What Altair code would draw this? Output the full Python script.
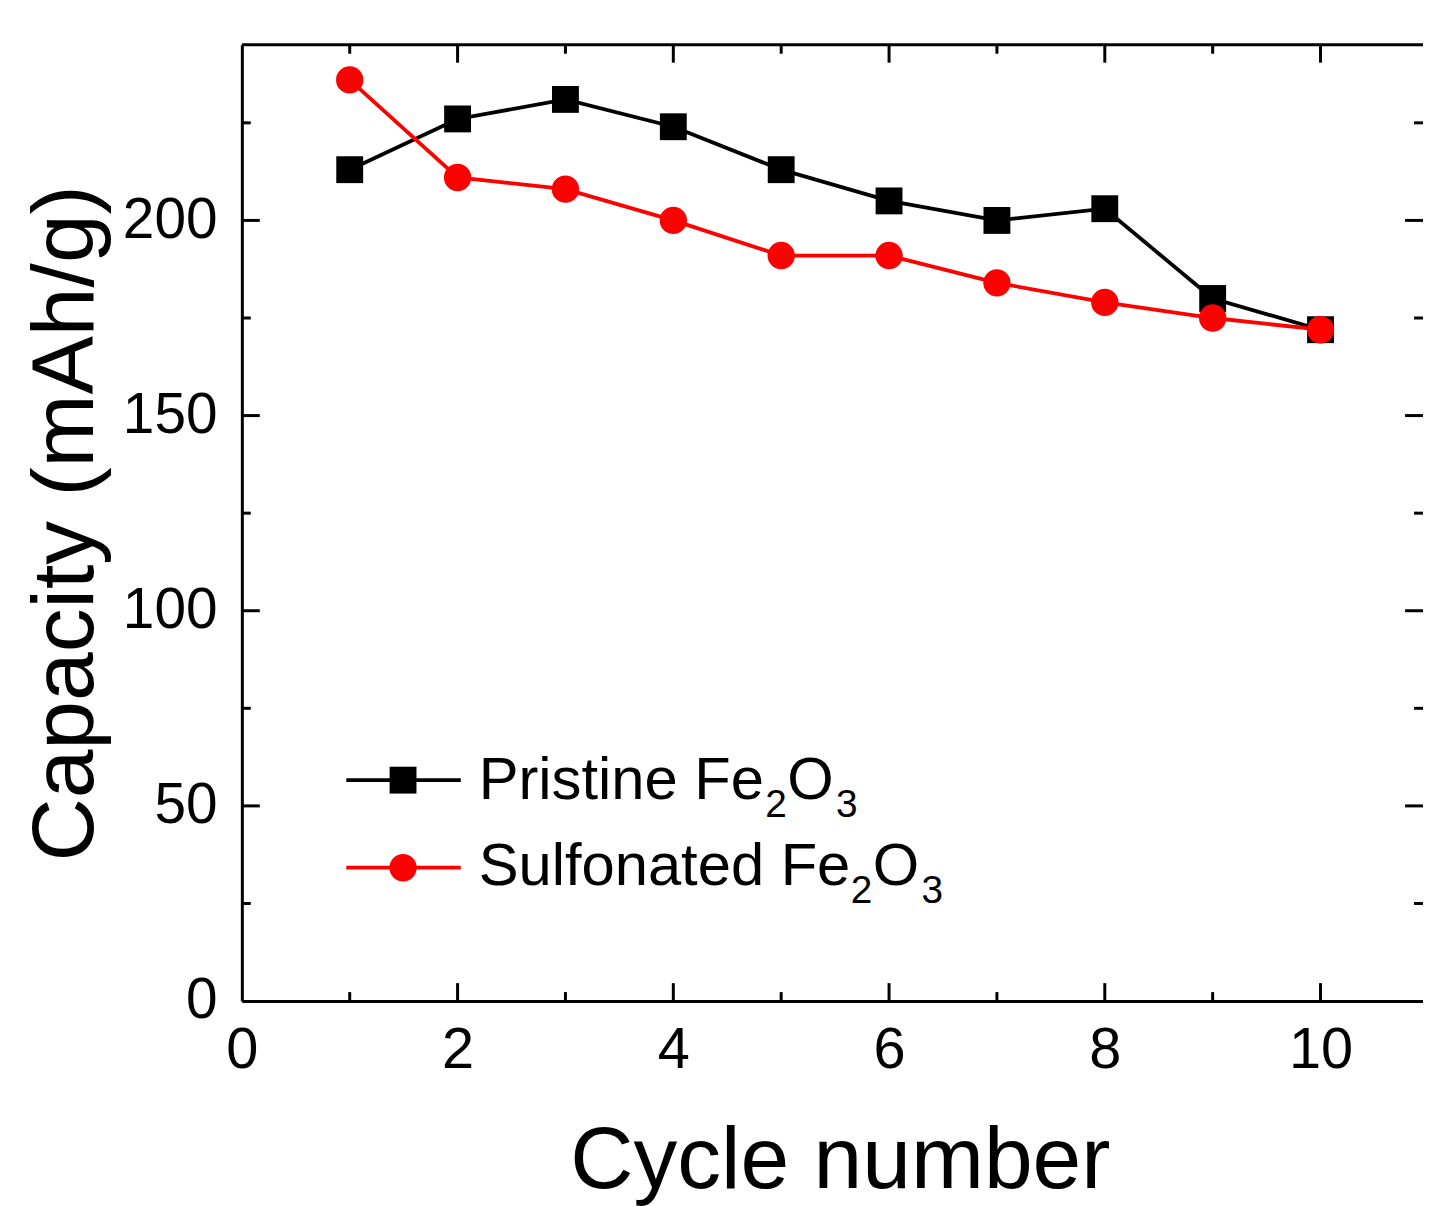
import altair as alt
import pandas as pd

# ---- data ----
cycles = [1, 2, 3, 4, 5, 6, 7, 8, 9, 10]
pristine = [213, 226, 231, 224, 213, 205, 200, 203, 180, 172]
sulfonated = [236, 211, 208, 200, 191, 191, 184, 179, 175, 172]

x_major = [0, 2, 4, 6, 8, 10]
x_minor = [1, 3, 5, 7, 9]
y_major = [0, 50, 100, 150, 200]
y_minor = [25, 75, 125, 175, 225]

FONT = "Liberation Sans"
W, H = 1187, 961
XMAX, YMAX = 10.95, 245
MAJ, MIN = 18, 9
RED = "#ff0000"
LW = 3.8

xs = alt.Scale(domain=[0, XMAX], nice=False, zero=False)
ys = alt.Scale(domain=[0, YMAX], nice=False, zero=False)

df_p = pd.DataFrame({"cycle": cycles, "cap": pristine})
df_s = pd.DataFrame({"cycle": cycles, "cap": sulfonated})

x_axis = alt.Axis(
    values=x_major, ticks=False, grid=False, domainWidth=3, domainColor="black",
    labelFont=FONT, labelFontSize=58, labelColor="black", labelPadding=21,
    labelFlush=False, format="d",
    title="Cycle number", titleFont=FONT, titleFontSize=88, titleFontWeight="normal",
    titleColor="black", titleBaseline="alphabetic", titleY=187, titleX=601,
)
y_axis = alt.Axis(
    values=y_major, ticks=False, grid=False, domainWidth=3, domainColor="black",
    labelFont=FONT, labelFontSize=57, labelColor="black", labelPadding=25,
    labelFlush=False, format="d",
    title="Capacity (mAh/g)", titleFont=FONT, titleFontSize=88, titleFontWeight="normal",
    titleColor="black", titleBaseline="alphabetic", titleAngle=270,
    titleX=-150, titleY=H / 2, titleAlign="center",
)

def X(field):
    return alt.X(field, scale=xs, axis=x_axis, title="Cycle number")

def Y(field):
    return alt.Y(field, scale=ys, axis=y_axis, title="Capacity (mAh/g)")

line_p = alt.Chart(df_p).mark_line(color="black", strokeWidth=LW).encode(
    x=X("cycle:Q"), y=Y("cap:Q"))
pts_p = alt.Chart(df_p).mark_square(color="black", size=729, opacity=1).encode(
    x=X("cycle:Q"), y=Y("cap:Q"))
line_s = alt.Chart(df_s).mark_line(color=RED, strokeWidth=LW).encode(
    x=X("cycle:Q"), y=Y("cap:Q"))
pts_s = alt.Chart(df_s).mark_circle(color=RED, size=755, opacity=1).encode(
    x=X("cycle:Q"), y=Y("cap:Q"))

# ---- inward ticks on all four sides ----
def xticks(vals, length, top):
    d = pd.DataFrame({"cycle": vals})
    y0, y1 = (0, length) if top else (H, H - length)
    return alt.Chart(d).mark_rule(color="black", strokeWidth=3).encode(
        x=X("cycle:Q"), y=alt.value(y0), y2=alt.value(y1))

def yticks(vals, length, right):
    d = pd.DataFrame({"cap": vals})
    x0, x1 = (W, W - length) if right else (0, length)
    return alt.Chart(d).mark_rule(color="black", strokeWidth=3).encode(
        y=Y("cap:Q"), x=alt.value(x0), x2=alt.value(x1))

ticks = [
    xticks(x_major[1:], MAJ, False), xticks(x_minor, MIN, False),
    xticks(x_major[1:], MAJ, True), xticks(x_minor, MIN, True),
    yticks(y_major[1:], MAJ, False), yticks(y_minor, MIN, False),
    yticks(y_major[1:], MAJ, True), yticks(y_minor, MIN, True),
]

top_frame = alt.Chart(pd.DataFrame({"a": [0]})).mark_rule(color="black", strokeWidth=3).encode(
    x=alt.value(0), x2=alt.value(W), y=alt.value(0))

# ---- legend ----
def lrule(y, color):
    return alt.Chart(pd.DataFrame({"a": [0]})).mark_rule(color=color, strokeWidth=LW).encode(
        x=alt.value(105), x2=alt.value(220), y=alt.value(y))

def ltext(t, x, y, size):
    return alt.Chart(pd.DataFrame({"a": [0]})).mark_text(
        text=t, font=FONT, fontSize=size, align="left", baseline="alphabetic", color="black"
    ).encode(x=alt.value(x), y=alt.value(y))

leg = [
    lrule(739, "black"),
    alt.Chart(pd.DataFrame({"a": [0]})).mark_square(color="black", size=729, opacity=1).encode(
        x=alt.value(162), y=alt.value(739)),
    lrule(827, RED),
    alt.Chart(pd.DataFrame({"a": [0]})).mark_circle(color=RED, size=755, opacity=1).encode(
        x=alt.value(162), y=alt.value(827)),
    ltext("Pristine Fe", 238, 758, 60), ltext("2", 526, 776, 39),
    ltext("O", 548, 758, 60), ltext("3", 597, 776, 39),
    ltext("Sulfonated Fe", 238, 844, 60), ltext("2", 612, 862, 39),
    ltext("O", 634, 844, 60), ltext("3", 683, 862, 39),
]

chart = alt.layer(
    line_p, pts_p, line_s, pts_s, top_frame, *ticks, *leg
).properties(
    width=W, height=H,
    padding={"left": 235, "top": 34, "right": 0, "bottom": 203},
    autosize=alt.AutoSizeParams(type="none"),
    background="white",
).configure_view(stroke=None)

chart.save("out.html", embed_options={"renderer": "svg", "actions": False})
